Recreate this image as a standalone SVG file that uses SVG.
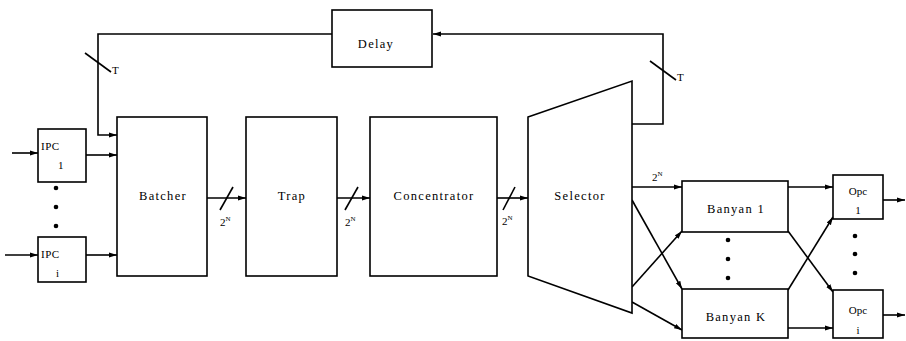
<svg xmlns="http://www.w3.org/2000/svg" width="906" height="341" viewBox="0 0 906 341">
<defs>
<marker id="ah" markerUnits="userSpaceOnUse" markerWidth="9" markerHeight="6" refX="8" refY="3" orient="auto">
<path d="M0,0.5 L8,3 L0,5.5 Z" fill="#000"/>
</marker>
<style>
.box{fill:#fff;stroke:#000;stroke-width:1.6}
.ln{fill:none;stroke:#000;stroke-width:1.6}
.ar{fill:none;stroke:#000;stroke-width:1.6;marker-end:url(#ah)}
.sl{fill:none;stroke:#000;stroke-width:1.6}
.t{font-family:"Liberation Serif",serif;font-size:12.5px;letter-spacing:1.3px;fill:#000;text-anchor:middle}
.s{font-family:"Liberation Serif",serif;font-size:11px;fill:#000}
.n{font-family:"Liberation Serif",serif;font-size:7px;fill:#000}
.dot{fill:#000}
</style>
</defs>
<rect width="906" height="341" fill="#fff"/>

<g id="connectors">
<!-- feedback loop -->
<polyline class="ar" points="632,124 663,124 663,34 433,34"/>
<polyline class="ar" points="332,34 98,34 98,135 117,135"/>
<line class="sl" x1="85" y1="53" x2="111" y2="72"/>
<line class="sl" x1="650" y1="61" x2="676" y2="80"/>
<!-- inputs -->
<line class="ar" x1="12" y1="153" x2="38" y2="153"/>
<line class="ar" x1="5" y1="255" x2="38" y2="255"/>
<line class="ar" x1="86" y1="155" x2="117" y2="155"/>
<line class="ar" x1="86" y1="255" x2="117" y2="255"/>
<!-- main chain -->
<line class="ar" x1="207" y1="198" x2="246" y2="198"/>
<line class="sl" x1="233" y1="187" x2="220" y2="210"/>
<line class="ar" x1="337" y1="198" x2="370" y2="198"/>
<line class="sl" x1="358" y1="187" x2="345" y2="210"/>
<line class="ar" x1="497" y1="198" x2="528" y2="198"/>
<line class="sl" x1="515" y1="187" x2="503" y2="210"/>
<!-- selector outputs -->
<line class="ar" x1="632" y1="187" x2="682" y2="187"/>
<line class="ar" x1="632" y1="200" x2="682" y2="289"/>
<line class="ar" x1="632" y1="287" x2="682" y2="231"/>
<line class="ar" x1="632" y1="302" x2="682" y2="330"/>
<!-- banyan to opc -->
<line class="ar" x1="788" y1="187" x2="833" y2="187"/>
<line class="ar" x1="788" y1="328" x2="833" y2="328"/>
<line class="ar" x1="788" y1="231" x2="833" y2="292"/>
<line class="ar" x1="788" y1="290" x2="833" y2="217"/>
<!-- outputs -->
<line class="ar" x1="883" y1="200" x2="905" y2="200"/>
<line class="ar" x1="883" y1="315" x2="905" y2="315"/>
<!-- labels -->
<text class="s" x="112" y="74">T</text>
<text class="s" x="677" y="81">T</text>
<text class="s" x="220" y="226">2<tspan class="n" dy="-5">N</tspan></text>
<text class="s" x="345" y="226">2<tspan class="n" dy="-5">N</tspan></text>
<text class="s" x="502" y="225">2<tspan class="n" dy="-5">N</tspan></text>
<text class="s" x="652" y="181">2<tspan class="n" dy="-5">N</tspan></text>
</g>

<g id="delay">
<rect class="box" x="332" y="10" width="100" height="57"/>
<text class="t" x="376" y="48">Delay</text>
</g>

<g id="ipc1">
<rect class="box" x="38" y="129" width="48" height="53"/>
<text class="s" x="41" y="150" style="letter-spacing:0.5px">IPC</text>
<text class="s" x="58" y="169">1</text>
</g>

<g id="ipc-dots">
<circle class="dot" cx="56" cy="188" r="2.3"/>
<circle class="dot" cx="56" cy="207" r="2.3"/>
<circle class="dot" cx="56" cy="226" r="2.3"/>
</g>

<g id="ipci">
<rect class="box" x="38" y="237" width="48" height="45"/>
<text class="s" x="41" y="258" style="letter-spacing:0.5px">IPC</text>
<text class="s" x="56" y="277">i</text>
</g>

<g id="batcher">
<rect class="box" x="117" y="117" width="90" height="159"/>
<text class="t" x="163" y="200">Batcher</text>
</g>

<g id="trap">
<rect class="box" x="246" y="117" width="91" height="159"/>
<text class="t" x="292" y="200">Trap</text>
</g>

<g id="concentrator">
<rect class="box" x="370" y="117" width="127" height="159"/>
<text class="t" x="434" y="200">Concentrator</text>
</g>

<g id="selector">
<polygon class="box" points="528,117 632,81 632,313 528,276"/>
<text class="t" x="580" y="200">Selector</text>
</g>

<g id="banyan1">
<rect class="box" x="682" y="181" width="106" height="51"/>
<text class="t" x="736" y="213">Banyan 1</text>
</g>

<g id="banyan-dots">
<circle class="dot" cx="728" cy="240" r="2.3"/>
<circle class="dot" cx="728" cy="259" r="2.3"/>
<circle class="dot" cx="728" cy="278" r="2.3"/>
</g>

<g id="banyanK">
<rect class="box" x="682" y="289" width="106" height="49"/>
<text class="t" x="736" y="321">Banyan K</text>
</g>

<g id="opc1">
<rect class="box" x="833" y="175" width="50" height="44"/>
<text class="s" x="858" y="195" text-anchor="middle">Opc</text>
<text class="s" x="858" y="214" text-anchor="middle">1</text>
</g>

<g id="opc-dots">
<circle class="dot" cx="855" cy="236" r="2.3"/>
<circle class="dot" cx="855" cy="254" r="2.3"/>
<circle class="dot" cx="855" cy="273" r="2.3"/>
</g>

<g id="opci">
<rect class="box" x="833" y="290" width="50" height="48"/>
<text class="s" x="858" y="314" text-anchor="middle">Opc</text>
<text class="s" x="858" y="334" text-anchor="middle">i</text>
</g>
</svg>
